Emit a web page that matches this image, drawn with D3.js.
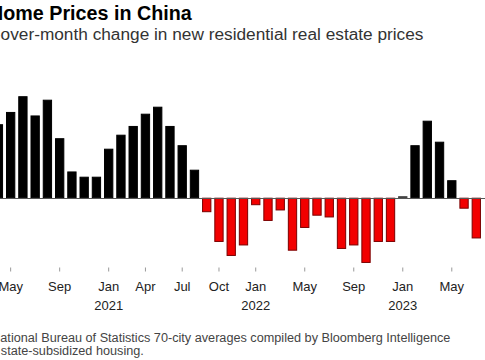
<!DOCTYPE html>
<html>
<head>
<meta charset="utf-8">
<script src="https://cdn.jsdelivr.net/npm/d3@7"></script>
<style>
  html, body { margin: 0; padding: 0; background: #fff; overflow: hidden; }
  svg { display: block; font-family: "Liberation Sans", Arial, Helvetica, sans-serif; }
</style>
</head>
<body>
<svg id="chart" width="485" height="360"></svg>
<script>
// ---- data ----
const months = [
  "2020-04","2020-05","2020-06","2020-07","2020-08","2020-09","2020-10","2020-11","2020-12",
  "2021-01","2021-02","2021-03","2021-04","2021-05","2021-06","2021-07","2021-08","2021-09","2021-10","2021-11","2021-12",
  "2022-01","2022-02","2022-03","2022-04","2022-05","2022-06","2022-07","2022-08","2022-09","2022-10","2022-11","2022-12",
  "2023-01","2023-02","2023-03","2023-04","2023-05","2023-06","2023-07"
];
const momChange = [
  0.42, 0.49, 0.58, 0.47, 0.56, 0.34, 0.15, 0.12, 0.12,
  0.28, 0.36, 0.41, 0.48, 0.52, 0.41, 0.30, 0.16, -0.08, -0.25, -0.33, -0.27,
  -0.04, -0.13, -0.07, -0.30, -0.17, -0.10, -0.11, -0.29, -0.27, -0.37, -0.25, -0.25,
  0.00, 0.30, 0.44, 0.32, 0.10, -0.06, -0.23
];
const tickMonths = ["2020-05","2020-09","2021-01","2021-04","2021-07","2021-10","2022-01","2022-05","2022-09","2023-01","2023-05"];
const tickMonthLabels = ["May","Sep","Jan","Apr","Jul","Oct","Jan","May","Sep","Jan","May"];
const tickYearLabels = ["","","2021","","","","2022","","","2023",""];

const titleText = "Home Prices in China";
const subtitleText = "Month-over-month change in new residential real estate prices";
const sourceText = "Source: National Bureau of Statistics 70-city averages compiled by Bloomberg Intelligence";
const noteText = "Excludes state-subsidized housing.";

// ---- layout ----
const W = 485, H = 360;
const plotLeft = -7.73, plotRight = 482.43;
const yDomain = [-0.4, 0.6];
const yRange = [267.7, 92.7];
const axisY = 267.5;

const svg = d3.select("#chart");

const x = d3.scaleBand().domain(months).range([plotLeft, plotRight])
  .paddingInner(0.24).paddingOuter(0.12);
const y = d3.scaleLinear().domain(yDomain).range(yRange);

const data = months.map((m, i) => ({ m, v: momChange[i] }));

// bars
svg.append("g").selectAll("rect").data(data).join("rect")
  .attr("x", d => x(d.m) + 0.5)
  .attr("width", x.bandwidth() - 1)
  .attr("y", d => d.v === 0 ? y(0) - 1 : y(Math.max(0, d.v)) + 0.5)
  .attr("height", d => d.v === 0 ? 1.5 : Math.abs(y(d.v) - y(0)) - 0.5)
  .attr("fill", d => d.v > 0 ? "#000" : (d.v < 0 ? "#f20000" : "#444"))
  .attr("stroke", d => d.v > 0 ? "#000" : (d.v < 0 ? "#7a0000" : "#444"))
  .attr("stroke-width", 1);

// zero line
svg.append("line")
  .attr("x1", 0).attr("x2", W)
  .attr("y1", Math.round(y(0)) + 0.5).attr("y2", Math.round(y(0)) + 0.5)
  .attr("stroke", "#555").attr("stroke-width", 1);

// x axis ticks
const xCenter = m => x(m) + x.bandwidth() / 2;
const axis = d3.axisBottom(x).tickValues(tickMonths).tickSize(4).tickFormat("");
const gAxis = svg.append("g").attr("transform", `translate(0,${axisY})`).call(axis);
gAxis.select(".domain").remove();
gAxis.selectAll(".tick line").attr("stroke", "#999");

const labels = svg.append("g")
  .attr("font-size", 13).attr("fill", "#222").attr("text-anchor", "middle");
labels.selectAll("text.mon").data(tickMonths).join("text").attr("class", "mon")
  .attr("x", xCenter).attr("y", 290.5)
  .text((d, i) => tickMonthLabels[i]);
labels.selectAll("text.yr").data(tickMonths.filter((d, i) => tickYearLabels[i] !== "")).join("text").attr("class", "yr")
  .attr("x", xCenter).attr("y", 309.5)
  .text(d => tickYearLabels[tickMonths.indexOf(d)]);

// ---- texts (left edge is cropped in the reference) ----
function measure(str, size, weight) {
  const t = svg.append("text").attr("font-size", size).attr("font-weight", weight || "normal").text(str);
  const w = t.node().getComputedTextLength();
  t.remove();
  return w;
}
function placeFitted(full, prefixLen, visStart, visEnd, baseline, weight, fill, fixedSize) {
  const vis = full.slice(prefixLen);
  let size = fixedSize;
  if (!size) {
    const w = measure(vis, 20, weight);
    size = 20 * (visEnd - visStart) / w;
  }
  const prefW = measure(full, size, weight) - measure(vis, size, weight);
  svg.append("text")
    .attr("x", visStart - prefW).attr("y", baseline)
    .attr("font-size", size).attr("font-weight", weight || "normal")
    .attr("fill", fill).text(full);
  return size;
}
placeFitted(titleText, 1, 3.3, 191.7, 19.8, "bold", "#000");
placeFitted(subtitleText, 6, 0.6, 423.5, 40.3, "normal", "#333");
const fs = placeFitted(sourceText, 9, 0.3, 450.7, 341.5, "normal", "#444");
placeFitted(noteText, 9, 0.8, 141.7, 354.5, "normal", "#444", fs);
</script>
</body>
</html>
